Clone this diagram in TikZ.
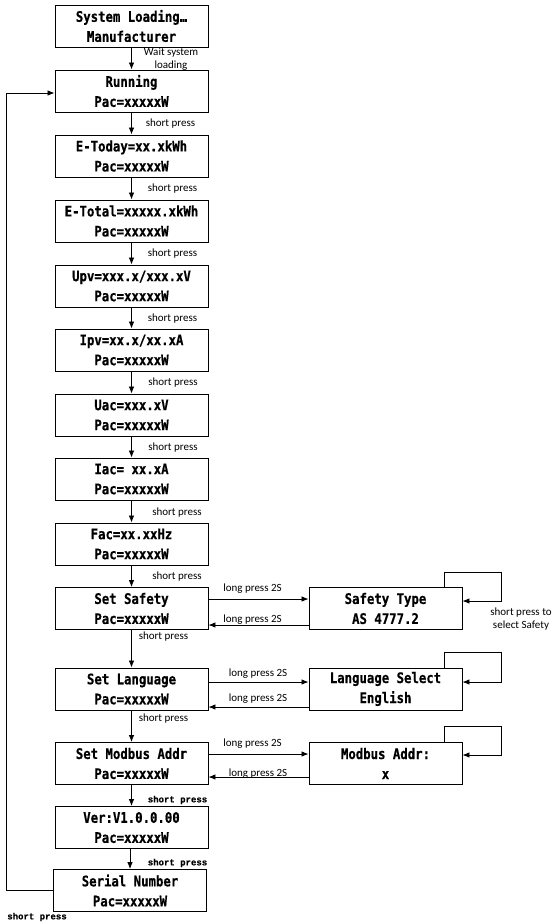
\documentclass[tikz,border=0pt]{standalone}
\usepackage{fontspec}
\usetikzlibrary{arrows.meta,calc}
\newfontfamily\boxfont{DejaVu Sans Mono}[FakeStretch=0.85,FakeBold=0.6]
\newfontfamily\lblfont{Carlito}
\newfontfamily\monolbl{Liberation Mono}[FakeBold=0.6]
\tikzset{
  box/.style={draw, line width=0.9pt, minimum width=153pt, minimum height=42pt, inner sep=0pt, align=center,
    font=\boxfont\bfseries\fontsize{14.5}{20}\selectfont},
  lbl/.style={font=\lblfont\fontsize{11}{13}\selectfont, inner sep=0pt, align=center},
  mlbl/.style={font=\monolbl\bfseries\fontsize{9}{11}\selectfont, inner sep=0pt},
  arr/.style={-{Latex[length=7pt,width=5.5pt]}, line width=0.8pt}
}
\begin{document}
\begin{tikzpicture}[x=1pt,y=-1pt]
\useasboundingbox[fill=white] (0,0) rectangle (552,924);
% main column
\node[box] (sys) at (131.5,26) {System Loading…\\Manufacturer};
\node[box] (run) at (131.5,91) {Running\\Pac=xxxxxW};
\node[box] (etd) at (131.5,156) {E-Today=xx.xkWh\\Pac=xxxxxW};
\node[box] (ett) at (131.5,221) {E-Total=xxxxx.xkWh\\Pac=xxxxxW};
\node[box] (upv) at (131.5,286) {Upv=xxx.x/xxx.xV\\Pac=xxxxxW};
\node[box] (ipv) at (131.5,350) {Ipv=xx.x/xx.xA\\Pac=xxxxxW};
\node[box] (uac) at (131.5,415) {Uac=xxx.xV\\Pac=xxxxxW};
\node[box] (iac) at (131.5,479) {Iac= xx.xA\\Pac=xxxxxW};
\node[box] (fac) at (131.5,544) {Fac=xx.xxHz\\Pac=xxxxxW};
\node[box] (ss) at (131.5,608.5) {Set Safety\\Pac=xxxxxW};
\node[box] (sl) at (131.5,689) {Set Language\\Pac=xxxxxW};
\node[box] (sm) at (131.5,763.5) {Set Modbus Addr\\Pac=xxxxxW};
\node[box] (ver) at (131.5,827.5) {Ver:V1.0.0.00\\Pac=xxxxxW};
\node[box] (ser) at (130,890.5) {Serial Number\\Pac=xxxxxW};
% side column
\node[box] (st) at (385.5,608.5) {Safety Type\\AS 4777.2};
\node[box] (ls) at (385.5,689) {Language Select\\English};
\node[box] (ma) at (385.5,763.5) {Modbus Addr:\\x};
% vertical arrows
\draw[arr] (sys) -- (run);
\draw[arr] (run) -- (etd);
\draw[arr] (etd) -- (ett);
\draw[arr] (ett) -- (upv);
\draw[arr] (upv) -- (ipv);
\draw[arr] (ipv) -- (uac);
\draw[arr] (uac) -- (iac);
\draw[arr] (iac) -- (fac);
\draw[arr] (fac) -- (ss);
\draw[arr] (ss) -- (sl);
\draw[arr] (sl) -- (sm);
\draw[arr] (sm) -- (ver);
\draw[arr] ([xshift=-1.5pt]ver.south) -- (ser.north);
% feedback
\draw[arr] (ser.west) -- ++(-46.5,0) |- ([yshift=-2pt]run.west);
% labels
\node[lbl] (l0) at (171,59) {Wait system\\loading};
\node[lbl] (l1) at (170.5,124) {short press};
\node[lbl] (l2) at (172.5,189) {short press};
\node[lbl] (l3) at (172.5,254) {short press};
\node[lbl] (l4) at (172.5,319) {short press};
\node[lbl] (l5) at (173,383) {short press};
\node[lbl] (l6) at (173,448) {short press};
\node[lbl] (l7) at (177,513) {short press};
\node[lbl] (l8) at (177,577) {short press};
\node[lbl] (l9) at (163.5,637) {short press};
\node[lbl] (l10) at (163.5,719) {short press};
\node[mlbl] (l11) at (177.5,800) {short press};
\node[mlbl] (l12) at (177.5,863) {short press};
\node[mlbl] (l13) at (37,917) {short press};
% horizontal arrows
\draw[arr] ([yshift=9.5pt]ss.east) -- ([yshift=9.5pt]st.west);
\draw[arr] ([yshift=-16.5pt]st.west) -- ([yshift=-16.5pt]ss.east);
\draw[arr] ([yshift=7pt]sl.east) -- ([yshift=7pt]ls.west);
\draw[arr] ([yshift=-18pt]ls.west) -- ([yshift=-18pt]sl.east);
\draw[arr] ([yshift=9.5pt]sm.east) -- ([yshift=9.5pt]ma.west);
\draw[arr] ([yshift=-13.5pt]ma.west) -- ([yshift=-13.5pt]sm.east);
\node[lbl] (h1) at (252.5,589) {long press 2S};
\node[lbl] (h2) at (252.5,620) {long press 2S};
\node[lbl] (h3) at (258,674) {long press 2S};
\node[lbl] (h4) at (258,699) {long press 2S};
\node[lbl] (h5) at (252.5,744) {long press 2S};
\node[lbl] (h6) at (258,774) {long press 2S};
% self loops
\draw[arr] ([xshift=58.5pt]st.north) -- ++(0,-15) -- ++(57,0) |- ([yshift=7.5pt]st.east);
\draw[arr] ([xshift=58.5pt]ls.north) -- ++(0,-15) -- ++(57,0) |- ([yshift=7pt]ls.east);
\draw[arr] ([xshift=58.5pt]ma.north) -- ++(0,-16) -- ++(57,0) |- ([yshift=8.5pt]ma.east);
\node[lbl] (sp) at (521,619.5) {short press to\\select Safety};
\end{tikzpicture}
\end{document}
